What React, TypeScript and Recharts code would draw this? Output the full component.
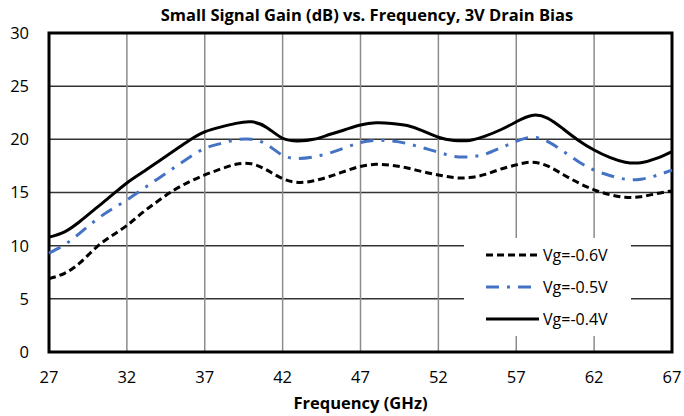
import React from 'react';
import {
  LineChart,
  Line,
  XAxis,
  YAxis,
  CartesianGrid,
  ReferenceArea,
  Legend,
} from 'recharts';

// frequency points (GHz)
const freq = [
  27, 28, 29, 30, 31, 32, 33, 34, 35, 36, 37, 38, 39, 40, 41, 42, 43, 44, 45, 46, 47,
  48, 49, 50, 51, 52, 53, 54, 55, 56, 57, 58, 59, 60, 61, 62, 63, 64, 65, 66, 67,
];

// gain (dB) per gate bias
const vg06 = [
  6.9, 7.4, 8.4, 9.8, 10.9, 11.9, 13.1, 14.2, 15.2, 16.0, 16.65, 17.2, 17.65, 17.7, 17.1,
  16.3, 15.95, 16.1, 16.5, 17.0, 17.45, 17.65, 17.55, 17.3, 16.95, 16.65, 16.4, 16.4, 16.7,
  17.2, 17.6, 17.85, 17.5, 16.7, 15.9, 15.25, 14.8, 14.55, 14.6, 14.9, 15.15,
];
const vg05 = [
  9.3, 10.1, 11.2, 12.4, 13.4, 14.3, 15.3, 16.3, 17.3, 18.3, 19.15, 19.6, 19.95, 20.0, 19.5,
  18.5, 18.2, 18.35, 18.7, 19.2, 19.7, 19.9, 19.85, 19.6, 19.2, 18.8, 18.4, 18.35, 18.6,
  19.2, 19.8, 20.2, 19.8, 18.9, 17.9, 17.1, 16.6, 16.25, 16.25, 16.6, 17.1,
];
const vg04 = [
  10.8, 11.3, 12.3, 13.5, 14.7, 15.9, 16.9, 17.9, 18.9, 19.9, 20.7, 21.15, 21.5, 21.65, 21.1,
  20.1, 19.85, 20.0, 20.45, 20.9, 21.35, 21.55, 21.5, 21.3, 20.8, 20.2, 19.9, 19.9, 20.3,
  20.9, 21.65, 22.25, 22.0, 21.0, 19.9, 19.0, 18.3, 17.85, 17.8, 18.2, 18.85,
];

const xTicks = [27, 32, 37, 42, 47, 52, 57, 62, 67];
const yTicks = [0, 5, 10, 15, 20, 25, 30];

const series = [
  { key: 'vg06', name: 'Vg=-0.6V', color: '#000000', dash: '7 4' },
  { key: 'vg05', name: 'Vg=-0.5V', color: '#4472C4', dash: '13 8 3 8' },
  { key: 'vg04', name: 'Vg=-0.4V', color: '#000000', dash: undefined as string | undefined },
];

const data = freq.map((f, i) => ({ f, vg06: vg06[i], vg05: vg05[i], vg04: vg04[i] }));

const FONT = '"Open Sans", sans-serif';

const LegendBox = () => (
  <div style={{ width: 167, height: 98, background: '#fff', position: 'relative' }}>
    {series.map((s, i) => (
      <div
        key={s.key}
        style={{
          position: 'absolute',
          left: 22,
          top: 17 + i * 32 - 10,
          height: 20,
          display: 'flex',
          alignItems: 'center',
        }}
      >
        <svg width={54} height={20}>
          <line
            x1={0}
            y1={10}
            x2={53}
            y2={10}
            stroke={s.color}
            strokeWidth={3}
            strokeDasharray={s.dash}
          />
        </svg>
        <span style={{ fontFamily: FONT, fontSize: 16, color: '#000', marginLeft: 3 }}>
          {s.name}
        </span>
      </div>
    ))}
  </div>
);

export default function App() {
  return (
    <div style={{ position: 'absolute', left: 0, top: 0, width: 684, height: 416, background: '#fff' }}>
      <svg width={684} height={30} style={{ position: 'absolute', left: 0, top: 0 }}>
        <text
          x={367}
          y={21}
          textAnchor="middle"
          fontFamily={FONT}
          fontWeight="bold"
          fontSize={16.5}
          fill="#000"
        >
          Small Signal Gain (dB) vs. Frequency, 3V Drain Bias
        </text>
      </svg>
      <LineChart
        width={684}
        height={416}
        data={data}
        margin={{ top: 33, right: 12, left: 9, bottom: 0 }}
      >
        <CartesianGrid vertical={false} stroke="#333" strokeWidth={1.5} />
        <CartesianGrid horizontal={false} stroke="#8c8c8c" strokeWidth={1.5} />
        <XAxis
          dataKey="f"
          type="number"
          domain={[27, 67]}
          ticks={xTicks}
          height={64}
          axisLine={false}
          tickLine={false}
          tickSize={0}
          tickMargin={19}
          tick={{ fill: '#000', fontSize: 16.5, fontFamily: FONT }}
          label={{
            value: 'Frequency (GHz)',
            position: 'insideBottom',
            offset: 7,
            fill: '#000',
            fontSize: 16.5,
            fontWeight: 'bold',
            fontFamily: FONT,
          }}
        />
        <YAxis
          type="number"
          domain={[0, 30]}
          ticks={yTicks}
          width={40}
          axisLine={false}
          tickLine={false}
          tickSize={0}
          tickMargin={20}
          tick={{ fill: '#000', fontSize: 16.5, fontFamily: FONT }}
        />
        <ReferenceArea x1={27} x2={67} y1={0} y2={30} fill="none" stroke="#000" strokeWidth={3} />
        <Legend
          layout="vertical"
          align="center"
          verticalAlign="middle"
          content={() => <LegendBox />}
          wrapperStyle={{ left: 464, top: 238, width: 167, height: 98 }}
        />
        {series.map((s) => (
          <Line
            key={s.key}
            type="natural"
            dataKey={s.key}
            name={s.name}
            stroke={s.color}
            strokeWidth={3}
            strokeDasharray={s.dash}
            dot={false}
            activeDot={false}
            isAnimationActive={false}
          />
        ))}
      </LineChart>
    </div>
  );
}
